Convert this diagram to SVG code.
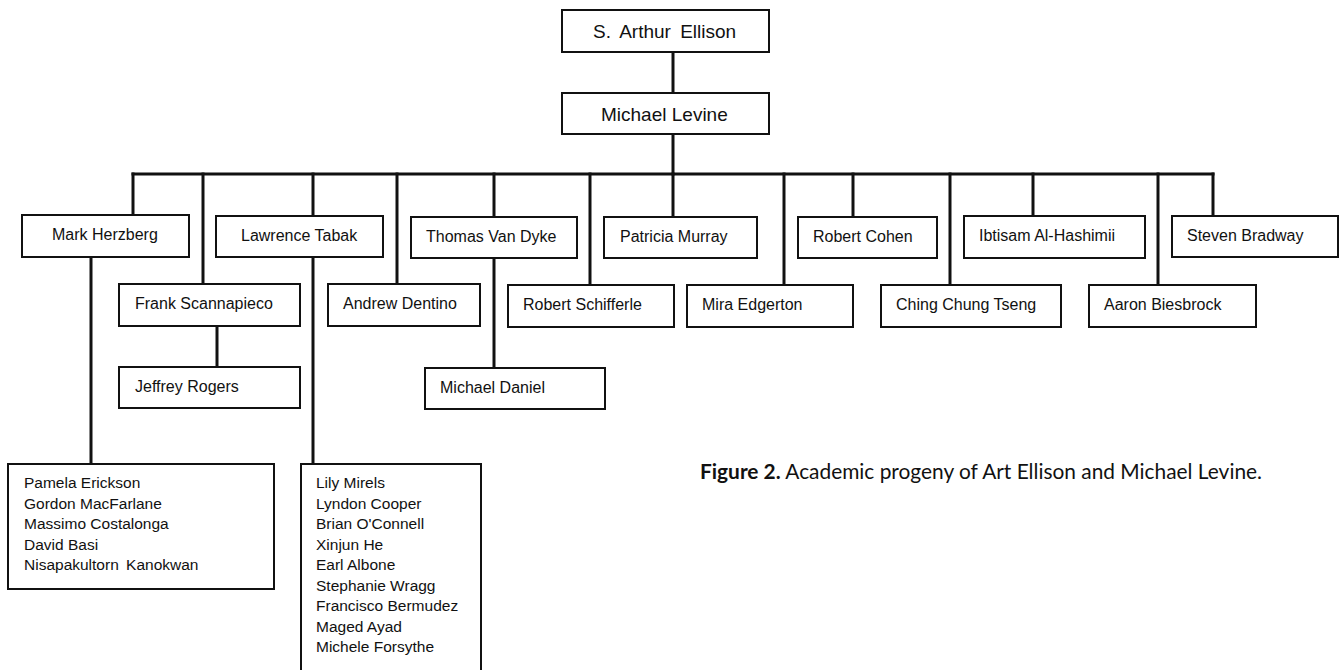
<svg xmlns="http://www.w3.org/2000/svg" width="1339" height="670" viewBox="0 0 1339 670">
<style>
.box{fill:#fff;stroke:#111;stroke-width:2}
.t{font-family:"Liberation Sans",Arial,sans-serif;font-size:16px;fill:#111}
.big{font-size:19px}
.lst{font-size:15.5px}
.con line{stroke:#111;stroke-width:3;stroke-linecap:square}
.cap{font-family:Lato,"Open Sans",sans-serif;font-size:21px;fill:#111}
</style>
<rect width="1339" height="670" fill="#fff"/>
<g id="connectors" class="con">
<line x1="673" y1="52" x2="673" y2="93"/>
<line x1="673" y1="134" x2="673" y2="174"/>
<line x1="133" y1="174" x2="1213" y2="174"/>
<line x1="133" y1="174" x2="133" y2="215"/>
<line x1="203" y1="174" x2="203" y2="284"/>
<line x1="313" y1="174" x2="313" y2="216"/>
<line x1="397" y1="174" x2="397" y2="284"/>
<line x1="494" y1="174" x2="494" y2="217"/>
<line x1="590" y1="174" x2="590" y2="285"/>
<line x1="673" y1="174" x2="673" y2="217"/>
<line x1="784" y1="174" x2="784" y2="285"/>
<line x1="853" y1="174" x2="853" y2="217"/>
<line x1="950" y1="174" x2="950" y2="285"/>
<line x1="1033" y1="174" x2="1033" y2="216"/>
<line x1="1158" y1="174" x2="1158" y2="285"/>
<line x1="1213" y1="174" x2="1213" y2="216"/>
<line x1="91" y1="257" x2="91" y2="464"/>
<line x1="313" y1="257" x2="313" y2="464"/>
<line x1="217" y1="326" x2="217" y2="367"/>
<line x1="494" y1="258" x2="494" y2="368"/>
</g>
<g id="ellison"><rect class="box" x="562" y="10" width="207" height="42"/><text class="t big" x="593" y="38" word-spacing="4">S. Arthur Ellison</text></g>
<g id="levine"><rect class="box" x="562" y="93" width="207" height="41"/><text class="t big" x="601" y="121">Michael Levine</text></g>
<g id="herzberg"><rect class="box" x="22" y="215" width="167" height="42"/><text class="t" x="52" y="240">Mark Herzberg</text></g>
<g id="tabak"><rect class="box" x="216" y="216" width="167" height="41"/><text class="t" x="241" y="241">Lawrence Tabak</text></g>
<g id="vandyke"><rect class="box" x="411" y="217" width="166" height="41"/><text class="t" x="426" y="242">Thomas Van Dyke</text></g>
<g id="murray"><rect class="box" x="604" y="217" width="153" height="41"/><text class="t" x="620" y="242">Patricia Murray</text></g>
<g id="cohen"><rect class="box" x="798" y="217" width="139" height="41"/><text class="t" x="813" y="242">Robert Cohen</text></g>
<g id="alhashimii"><rect class="box" x="964" y="216" width="181" height="42"/><text class="t" x="979" y="241">Ibtisam Al-Hashimii</text></g>
<g id="bradway"><rect class="box" x="1172" y="216" width="166" height="41"/><text class="t" x="1187" y="241">Steven Bradway</text></g>
<g id="scannapieco"><rect class="box" x="119" y="284" width="181" height="42"/><text class="t" x="135" y="309">Frank Scannapieco</text></g>
<g id="dentino"><rect class="box" x="328" y="284" width="152" height="42"/><text class="t" x="343" y="309">Andrew Dentino</text></g>
<g id="schifferle"><rect class="box" x="508" y="285" width="166" height="42"/><text class="t" x="523" y="310">Robert Schifferle</text></g>
<g id="edgerton"><rect class="box" x="687" y="285" width="166" height="42"/><text class="t" x="702" y="310">Mira Edgerton</text></g>
<g id="tseng"><rect class="box" x="881" y="285" width="180" height="42"/><text class="t" x="896" y="310">Ching Chung Tseng</text></g>
<g id="biesbrock"><rect class="box" x="1089" y="285" width="167" height="42"/><text class="t" x="1104" y="310">Aaron Biesbrock</text></g>
<g id="rogers"><rect class="box" x="119" y="367" width="181" height="41"/><text class="t" x="135" y="392">Jeffrey Rogers</text></g>
<g id="daniel"><rect class="box" x="425" y="368" width="180" height="41"/><text class="t" x="440" y="393">Michael Daniel</text></g>
<g id="herzberg-list"><rect class="box" x="8" y="464" width="266" height="125"/>
<text class="t lst" x="24" y="488">Pamela Erickson</text>
<text class="t lst" x="24" y="508.5">Gordon MacFarlane</text>
<text class="t lst" x="24" y="529">Massimo Costalonga</text>
<text class="t lst" x="24" y="549.5">David Basi</text>
<text class="t lst" x="24" y="570" word-spacing="3">Nisapakultorn Kanokwan</text>
</g>
<g id="tabak-list"><rect class="box" x="301" y="464" width="180" height="215"/>
<text class="t lst" x="316" y="488">Lily Mirels</text>
<text class="t lst" x="316" y="508.5">Lyndon Cooper</text>
<text class="t lst" x="316" y="529">Brian O'Connell</text>
<text class="t lst" x="316" y="549.5">Xinjun He</text>
<text class="t lst" x="316" y="570">Earl Albone</text>
<text class="t lst" x="316" y="590.5">Stephanie Wragg</text>
<text class="t lst" x="316" y="611">Francisco Bermudez</text>
<text class="t lst" x="316" y="631.5">Maged Ayad</text>
<text class="t lst" x="316" y="652">Michele Forsythe</text>
</g>
<text class="cap" x="700" y="479" textLength="562" lengthAdjust="spacingAndGlyphs"><tspan font-weight="bold">Figure 2.</tspan> Academic progeny of Art Ellison and Michael Levine.</text>
</svg>
